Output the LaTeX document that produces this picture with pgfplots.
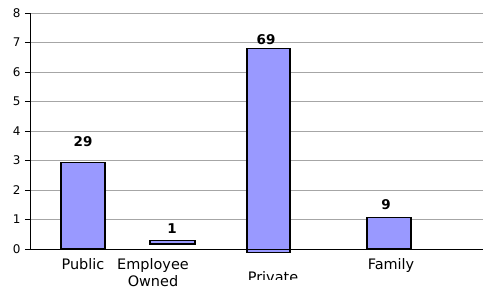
\documentclass[border=0pt]{standalone}
\usepackage{pgfplots}
\pgfplotsset{compat=1.18}
\usepackage{fontspec}
\setmainfont{DejaVu Sans}
\definecolor{barblue}{HTML}{9999FF}
\begin{document}
\begin{tikzpicture}
\path[use as bounding box] (-30bp,-46bp) rectangle (453bp,249bp);
\begin{axis}[
  scale only axis, width=453bp, height=236bp,
  xmin=30, xmax=483, ymin=0, ymax=8,
  clip=false,
  axis x line=none,
  axis y line*=left,
  y axis line style={black, line width=0.8pt, -},
  ytick={0,...,8},
  ytick style={black, line width=0.6pt},
  tick align=outside, major tick length=5bp,
  yticklabel style={font=\fontsize{12}{14}\selectfont, xshift=-1bp},
  /pgf/number format/assume math mode=true,
  ymajorgrids, grid style={gray!70, line width=0.9pt},
]
\addplot[fill=barblue, draw=black, line width=1.2pt] coordinates {(61,0) (61,2.92) (105,2.92) (105,0)} -- cycle;
\addplot[fill=barblue, draw=black, line width=1.2pt] coordinates {(150,0.17) (150,0.3) (195,0.3) (195,0.17)} -- cycle;
\addplot[fill=barblue, draw=black, line width=1.2pt] coordinates {(247,-0.13) (247,6.8) (290,6.8) (290,-0.13)} -- cycle;
\addplot[fill=barblue, draw=black, line width=1.2pt] coordinates {(367,0.03) (367,1.08) (411,1.08) (411,0.03)} -- cycle;
\draw[black, line width=0.8pt] (axis cs:30,0) -- (axis cs:483,0);
\node[font=\bfseries\fontsize{13.5}{15}\selectfont] at (axis cs:83,3.63) {29};
\node[font=\bfseries\fontsize{13.5}{15}\selectfont] at (axis cs:172,0.68) {1};
\node[font=\bfseries\fontsize{13.5}{15}\selectfont] at (axis cs:266,7.1) {69};
\node[font=\bfseries\fontsize{13.5}{15}\selectfont] at (axis cs:386,1.5) {9};
\node[font=\fontsize{14.5}{16}\selectfont, anchor=base] at (axis cs:83,-0.68) {Public};
\node[font=\fontsize{14.5}{16}\selectfont, anchor=base] at (axis cs:153,-0.68) {Employee};
\node[font=\fontsize{14.5}{16}\selectfont, anchor=base] at (axis cs:153,-1.28) {Owned};
\begin{scope}
\clip (axis cs:200,-0.5) rectangle (axis cs:340,-1.03);
\node[font=\fontsize{14.5}{16}\selectfont, anchor=base] at (axis cs:273,-1.12) {Private};
\end{scope}
\node[font=\fontsize{14.5}{16}\selectfont, anchor=base] at (axis cs:391,-0.68) {Family};
\end{axis}
\end{tikzpicture}
\end{document}
